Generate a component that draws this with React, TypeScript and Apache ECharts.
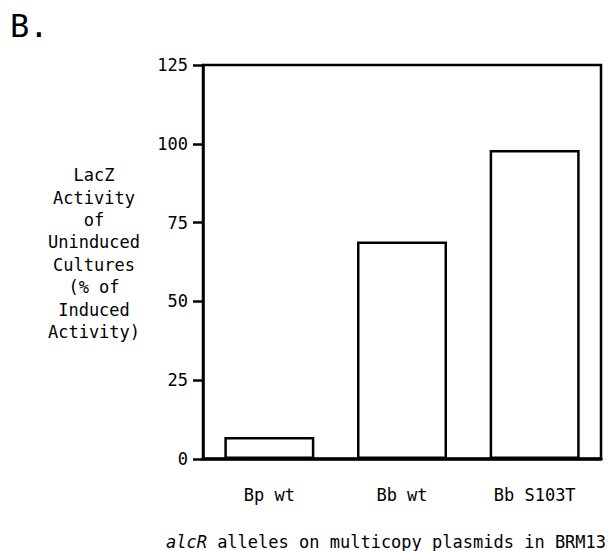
import React, { useEffect, useRef } from "react";
import * as echarts from "echarts";

const categories = ["Bp wt", "Bb wt", "Bb S103T"];
const values = [7, 69, 98];
const yTicks = [0, 25, 50, 75, 100, 125];
const yTitleLines = ["LacZ", "Activity", "of", "Uninduced", "Cultures", "(% of", "Induced", "Activity)"];
const panelLabel = "B.";
const xTitleItalic = "alcR";
const xTitleRest = " alleles on multicopy plasmids in BRM13";

const FONT = "'DejaVu Sans Mono', monospace";

export default function App() {
  const ref = useRef<HTMLDivElement>(null);
  useEffect(() => {
    if (!ref.current) return;
    const chart = echarts.init(ref.current, null, { renderer: "svg" });
    chart.setOption({
      animation: false,
      backgroundColor: "#ffffff",
      grid: {
        left: 203,
        right: 10,
        top: 65,
        bottom: 92,
        show: true,
        borderColor: "#000",
        borderWidth: 2.5,
        backgroundColor: "transparent",
      },
      xAxis: {
        type: "category",
        data: categories,
        axisLine: { lineStyle: { color: "#000", width: 3.5 } },
        axisTick: { alignWithLabel: true, length: 9, lineStyle: { color: "#000", width: 2.5 } },
        axisLabel: { color: "#000", fontFamily: FONT, fontSize: 17, margin: 27 },
        splitLine: { show: false },
      },
      yAxis: {
        type: "value",
        min: 0,
        max: yTicks[yTicks.length - 1],
        interval: 25,
        axisLine: { show: true, lineStyle: { color: "#000", width: 2.5 } },
        axisTick: { show: true, length: 10, lineStyle: { color: "#000", width: 2.5 } },
        axisLabel: { color: "#000", fontFamily: FONT, fontSize: 17, margin: 15 },
        splitLine: { show: false },
      },
      series: [
        {
          type: "bar",
          data: values,
          barWidth: 90,
          itemStyle: { color: "#fff", borderColor: "#000", borderWidth: 2.5 },
        },
      ],
      graphic: [
        {
          type: "text",
          left: 10,
          top: 10,
          style: { text: panelLabel, font: `32px ${FONT}`, fill: "#000" },
        },
        {
          type: "text",
          x: 94,
          y: 164,
          style: {
            text: yTitleLines.join("\n"),
            font: `17px ${FONT}`,
            fill: "#000",
            align: "center",
            verticalAlign: "top",
            lineHeight: 22.4,
          },
        },
        {
          type: "text",
          x: 386,
          y: 542,
          style: {
            text: `{i|${xTitleItalic}}{n|${xTitleRest}}`,
            align: "center",
            verticalAlign: "middle",
            fill: "#000",
            rich: {
              i: { fontFamily: FONT, fontSize: 17, fontStyle: "italic", fill: "#000" },
              n: { fontFamily: FONT, fontSize: 17, fill: "#000" },
            },
          },
        },
      ],
    });
    return () => chart.dispose();
  }, []);
  return <div ref={ref} style={{ width: 611, height: 551, position: "absolute", left: 0, top: 0 }} />;
}
